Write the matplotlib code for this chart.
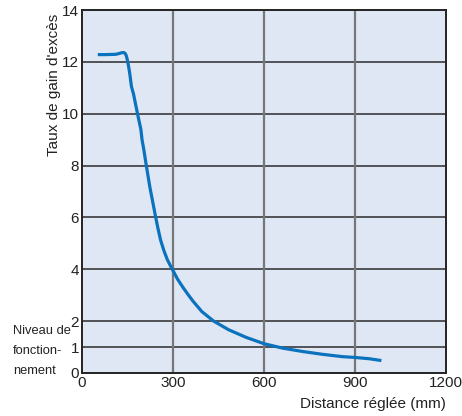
import matplotlib.pyplot as plt

plt.rcParams['font.family'] = ['Liberation Sans', 'DejaVu Sans']

# curve (distance mm, excess gain ratio)
dist = [52, 80, 110, 122, 130, 137, 142, 146, 150, 154, 158, 163, 170, 176, 185,
        194, 198, 204, 210, 217, 224, 232, 243, 250, 259, 270, 281, 290, 300, 315,
        333, 350, 366, 395, 433, 483, 542, 600, 661, 727, 793, 859, 900, 947, 987]
gain = [12.28, 12.28, 12.29, 12.32, 12.35, 12.36, 12.33, 12.24, 12.05, 11.8, 11.5,
        11.05, 10.75, 10.4, 9.89, 9.4, 8.99, 8.6, 8.15, 7.65, 7.15, 6.67, 6.0, 5.6,
        5.13, 4.72, 4.38, 4.17, 3.95, 3.62, 3.3, 3.02, 2.77, 2.37, 2.01, 1.67, 1.37,
        1.13, 0.96, 0.83, 0.72, 0.63, 0.6, 0.55, 0.48]

x_ticks = [0, 300, 600, 900, 1200]
y_ticks = [0, 1, 2, 4, 6, 8, 10, 12, 14]

fig = plt.figure(figsize=(4.62, 4.16), dpi=100)
ax = fig.add_axes([82 / 462, 1 - 373 / 416, 364 / 462, 363 / 416])
ax.set_facecolor('#dfe7f5')

ax.set_xlim(0, 1200)
ax.set_ylim(0, 14)
for yv in y_ticks[1:-1]:
    ax.axhline(yv, color='#2a2a2a', lw=1.1, zorder=1)
for xv in x_ticks[1:-1]:
    ax.axvline(xv, color='#777777', lw=1.6, zorder=1)

ax.plot(dist, gain, color='#0b72bd', lw=2.3, solid_capstyle='butt',
        solid_joinstyle='round', zorder=3)

ax.set_xticks(x_ticks)
ax.set_yticks(y_ticks)
ax.tick_params(length=0, labelsize=11, pad=2, colors='#222222')
ax.tick_params(axis='x', pad=2)
for s in ax.spines.values():
    s.set_color('#222222')
    s.set_linewidth(1.4)

fig.text(446 / 462, 1 - 404 / 416, 'Distance réglée (mm)', ha='right', va='center',
         fontsize=11, color='#222222')
fig.text(54 / 462, 1 - 85 / 416, "Taux de gain d'excès", rotation=90, ha='center',
         va='center', fontsize=11, color='#222222')
fig.text(13 / 462, 1 - 331 / 416, 'Niveau de', ha='left', va='center', fontsize=9.3,
         color='#222222')
fig.text(13 / 462, 1 - 351 / 416, 'fonction-', ha='left', va='center', fontsize=9.3,
         color='#222222')
fig.text(13 / 462, 1 - 371 / 416, 'nement', ha='left', va='center', fontsize=9.3,
         color='#222222')

fig.savefig('out.png', dpi=100)
